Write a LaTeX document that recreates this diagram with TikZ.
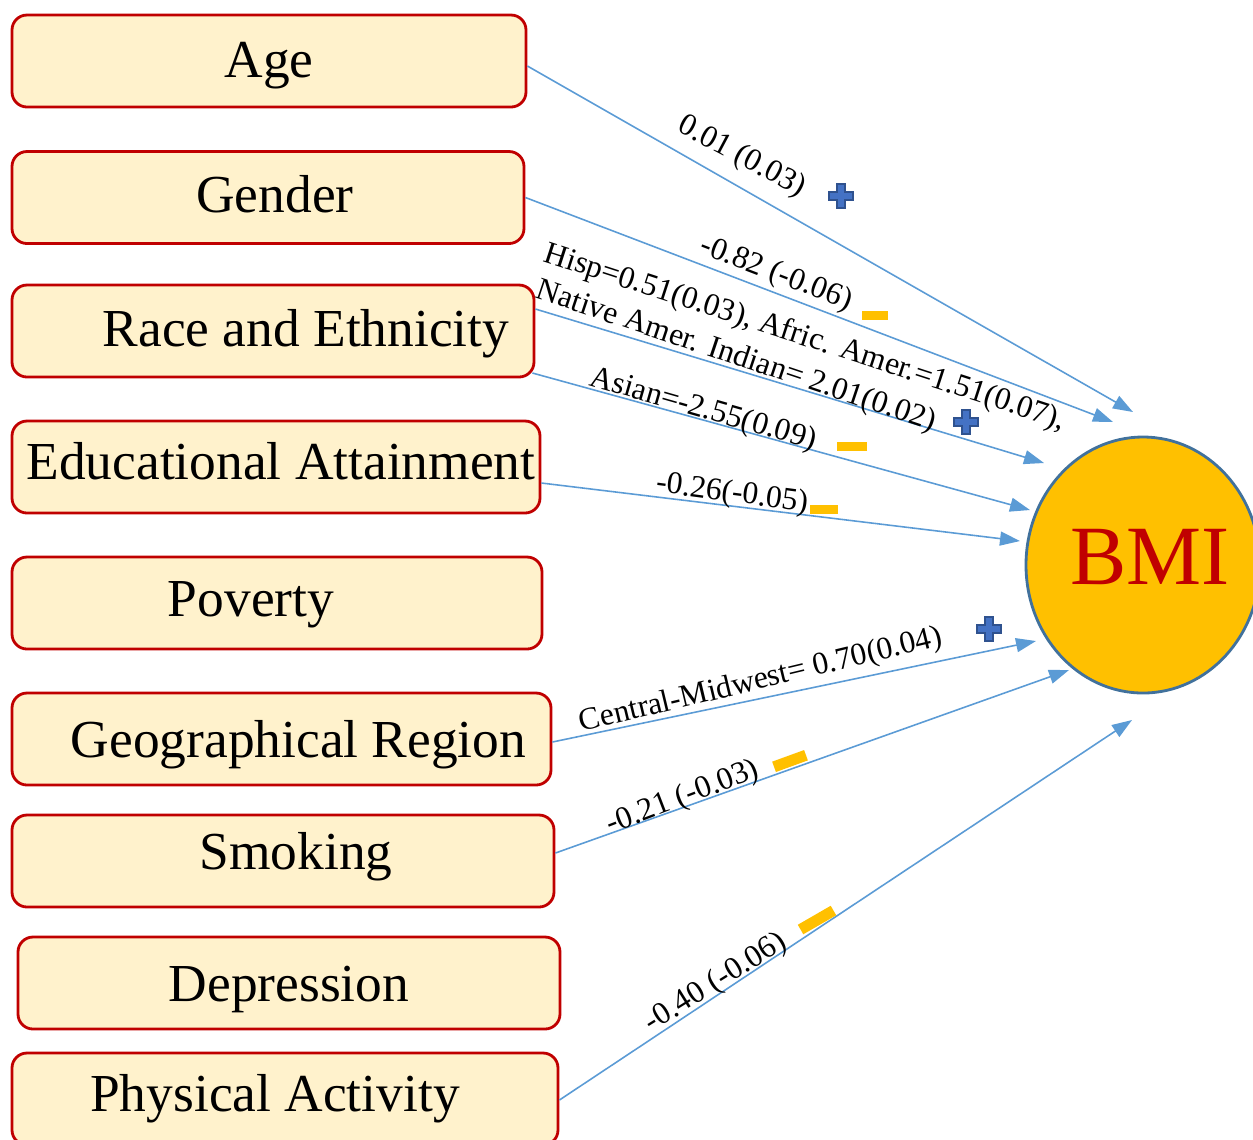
\documentclass[tikz,border=0pt]{standalone}
\usepackage{fontspec}
\setmainfont{Liberation Serif}
\usetikzlibrary{arrows.meta,shapes.geometric}

\definecolor{boxred}{HTML}{C00000}
\definecolor{boxfill}{HTML}{FFF2CC}
\definecolor{linkblue}{HTML}{5B9BD5}
\definecolor{bmiyellow}{HTML}{FFC000}
\definecolor{bmiedge}{HTML}{41719C}
\definecolor{plusblue}{HTML}{4472C4}
\definecolor{plusedge}{HTML}{2F528F}

\tikzset{
  factor/.style={draw=boxred, fill=boxfill, line width=0.8pt, rounded corners=0.15cm,
    minimum height=0.92cm, inner sep=0pt, font=\fontsize{15.2}{18}\selectfont,
    text height=0.36cm, text depth=0.06cm},
  effect/.style={draw=linkblue, line width=0.45pt,
    -{Triangle[length=0.2cm,width=0.14cm,fill=linkblue]}},
  coef/.style={font=\fontsize{9}{10}\selectfont, inner sep=0pt},
  negbar/.style={fill=bmiyellow, inner sep=0pt},
  plusfill/.style={fill=plusblue, draw=plusedge, line width=0.5pt}
}
\newcommand{\plusmark}[1]{%
  \begin{scope}[shift={#1}]
    \filldraw[plusfill] (-0.04,-0.12) -- (0.04,-0.12) -- (0.04,-0.04) -- (0.12,-0.04)
      -- (0.12,0.04) -- (0.04,0.04) -- (0.04,0.12) -- (-0.04,0.12) -- (-0.04,0.04)
      -- (-0.12,0.04) -- (-0.12,-0.04) -- (-0.04,-0.04) -- cycle;
  \end{scope}}

\begin{document}
\begin{tikzpicture}
  \useasboundingbox (0,0) rectangle (12.53,-11.39);

  % predictors
  \node[factor, minimum width=5.14cm, text depth=0.04cm] (age) at (2.69,-0.61) {Age};
  \node[factor, minimum width=5.12cm] (gender) at (2.68,-1.975) {\hspace*{0.14cm}Gender};
  \node[factor, minimum width=5.22cm] (race) at (2.73,-3.31) {\hspace*{0.66cm}Race and Ethnicity};
  \node[factor, minimum width=5.28cm, text depth=0.12cm] (edu) at (2.76,-4.67) {\hspace*{0.1cm}Educational Attainment};
  \node[factor, minimum width=5.30cm, text depth=0.1cm] (poverty) at (2.77,-6.03) {Poverty\hspace*{0.52cm}};
  \node[factor, minimum width=5.39cm, text depth=0cm] (geo) at (2.815,-7.39) {\hspace*{0.34cm}Geographical Region};
  \node[factor, minimum width=5.42cm, text depth=0.2cm] (smoke) at (2.83,-8.61) {\hspace*{0.26cm}Smoking};
  \node[factor, minimum width=5.42cm, text depth=0cm] (depress) at (2.89,-9.83) {Depression};
  \node[factor, minimum width=5.46cm, text depth=0.12cm] (activity) at (2.85,-10.99) {Physical Activity\hspace*{0.2cm}};

  % outcome
  \node[ellipse, draw=bmiedge, fill=bmiyellow, line width=0.8pt, inner sep=0pt,
    minimum width=2.34cm, minimum height=2.56cm, text=boxred,
    font=\fontsize{24}{28}\selectfont, text height=0.56cm, text depth=0.18cm]
    (bmi) at (11.43,-5.65) {\makebox[1cm]{\hspace*{0.14cm}BMI}};

  % arrow ends
  \coordinate (e-age) at (11.33,-4.12);
  \coordinate (e-gender) at (11.13,-4.22);
  \coordinate (e-race) at (10.44,-4.63);
  \coordinate (e-asian) at (10.30,-5.10);
  \coordinate (e-edu) at (10.20,-5.41);
  \coordinate (e-geo) at (10.36,-6.41);
  \coordinate (e-smoke) at (10.69,-6.70);
  \coordinate (e-activity) at (11.32,-7.20);

  \draw[effect] ([yshift=-0.05cm]age.east) -- (e-age);
  \draw[effect] (gender.east) -- (e-gender);
  \draw[effect] ([yshift=0.22cm]race.east) -- (e-race);
  \draw[effect] ([xshift=-0.03cm,yshift=-0.42cm]race.east) -- (e-asian);
  \draw[effect] ([yshift=-0.16cm]edu.east) -- (e-edu);
  \draw[effect] ([yshift=-0.03cm]geo.east) -- (e-geo);
  \draw[effect] ([yshift=0.08cm]smoke.east) -- (e-smoke);
  \draw[effect] ([yshift=-0.01cm]activity.east) -- (e-activity);

  % coefficients
  \node[coef, rotate=-28] (c-age) at (7.42,-1.57) {0.01 (0.03)};
  \node[coef, rotate=-21] (c-gender) at (7.76,-2.74) {-0.82 (-0.06)};
  \node[coef, rotate=-18] (c-hisp) at (8.05,-3.38) {Hisp=0.51(0.03), Afric. Amer.=1.51(0.07),};
  \node[coef, rotate=-18.5] (c-native) at (7.36,-3.57) {Native Amer. Indian= 2.01(0.02)};
  \node[coef, rotate=-16] (c-asian) at (7.03,-4.10) {Asian=-2.55(0.09)};
  \node[coef, rotate=-7.5] (c-edu) at (7.32,-4.94) {-0.26(-0.05)};
  \node[coef, rotate=13.5] (c-geo) at (7.61,-6.81) {Central-Midwest= 0.70(0.04)};
  \node[coef, rotate=21] (c-smoke) at (6.83,-7.98) {-0.21 (-0.03)};
  \node[coef, rotate=32] (c-activity) at (7.16,-9.83) {-0.40 (-0.06)};

  % signs
  \plusmark{(8.41,-1.96)}
  \plusmark{(9.66,-4.22)}
  \plusmark{(9.89,-6.29)}
  \node[negbar, minimum width=0.26cm, minimum height=0.09cm] (n-gender) at (8.75,-3.155) {};
  \node[negbar, minimum width=0.30cm, minimum height=0.09cm] (n-asian) at (8.52,-4.46) {};
  \node[negbar, minimum width=0.28cm, minimum height=0.09cm] (n-edu) at (8.235,-5.095) {};
  \node[negbar, minimum width=0.34cm, minimum height=0.11cm, rotate=20] (n-smoke) at (7.90,-7.61) {};
  \node[negbar, minimum width=0.38cm, minimum height=0.11cm, rotate=30] (n-activity) at (8.17,-9.20) {};
\end{tikzpicture}
\end{document}
